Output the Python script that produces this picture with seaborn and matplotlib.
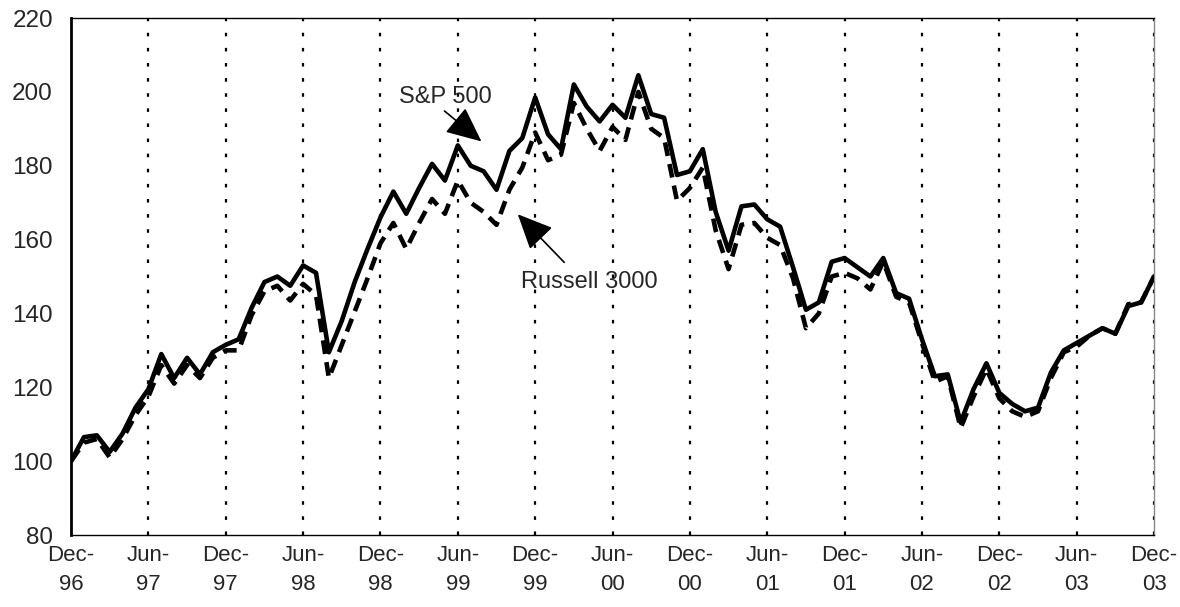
import seaborn as sns
import matplotlib.pyplot as plt
import numpy as np
import pandas as pd

# monthly index levels, Dec-96 = 100
sp500 = [100, 106.5, 107, 102.5, 107.5, 114.5, 119.5, 129, 122.5, 128, 123.5, 129.5, 131.5,
         133, 141.5, 148.5, 150, 147.5, 153, 151, 129.5, 138, 148.5, 157.5, 166,
         173, 167, 174, 180.5, 176, 185.5, 180, 178.5, 173.5, 184, 187.5, 198.5,
         188.5, 184.5, 202, 196, 192, 196.5, 193, 204.5, 194, 193, 177.5, 178.5,
         184.5, 167.5, 157, 169, 169.5, 165.5, 163.5, 152.5, 141, 143, 154, 155,
         152.5, 150, 155, 145.5, 144, 133, 123, 123.5, 110.5, 119.5, 126.5, 118.5,
         115.5, 113.5, 114.5, 124, 130, 132, 134, 136, 134.5, 142, 143, 150]
russell = [100, 105, 106, 101, 106, 112.5, 117.5, 126, 121, 126, 122.5, 128, 130,
           130, 139.5, 146, 147.5, 143.5, 148, 145, 122.5, 131.5, 140.5, 149.5, 159,
           164.5, 157.5, 164.5, 171, 167, 176, 170, 167.5, 164, 173.5, 179.5, 189,
           181.5, 183, 197, 190, 184, 190.5, 187, 200, 190, 187.5, 170.5, 174,
           179.5, 162.5, 152, 164, 164.5, 160.5, 158.5, 149.5, 136, 140, 150, 151,
           149.5, 146.5, 154, 144.5, 143, 132, 121.5, 123, 109, 117.5, 125, 117,
           113.5, 112, 113.5, 122.5, 129.5, 131, 134, 136, 134.5, 142.5, 143, 150]
tick_labels = ['Dec-\n96', 'Jun-\n97', 'Dec-\n97', 'Jun-\n98', 'Dec-\n98', 'Jun-\n99',
               'Dec-\n99', 'Jun-\n00', 'Dec-\n00', 'Jun-\n01', 'Dec-\n01', 'Jun-\n02',
               'Dec-\n02', 'Jun-\n03', 'Dec-\n03']

months = np.arange(len(sp500))
df = pd.DataFrame({'month': months, 'S&P 500': sp500, 'Russell 3000': russell})

sns.set_theme(style='white')
plt.rcParams['font.family'] = ['Liberation Sans', 'DejaVu Sans']

fig = plt.figure(figsize=(11.8, 6.07), dpi=100)
ax = fig.add_axes([0.0602, 0.1186, 0.9178, 0.8517])

tick_pos = months[::6]
for xp in tick_pos[1:]:
    ax.axvline(xp, color='black', lw=1.6, ls=(0, (1.6, 5.2)), zorder=1)

sns.lineplot(data=df, x='month', y='Russell 3000', ax=ax, color='black',
             lw=3.3, ls=(0, (3, 1.8)), zorder=2)
sns.lineplot(data=df, x='month', y='S&P 500', ax=ax, color='black',
             lw=3.3, zorder=3)

ax.set_xlim(0, 84)
ax.set_ylim(80, 220)
ax.set_yticks(range(80, 221, 20))
ax.set_xticks(tick_pos)
ax.set_xticklabels(tick_labels, linespacing=1.5)
ax.set_xlabel('')
ax.set_ylabel('')
ax.tick_params(axis='y', direction='in', length=6, width=1, color='#666666',
               labelsize=17.5, pad=13)
ax.tick_params(axis='x', length=0, labelsize=16, pad=7)
for s in ax.spines.values():
    s.set_color('black')
    s.set_linewidth(1)
ax.spines['left'].set_linewidth(2)
ax.spines['right'].set_color('#888888')

ax.text(29.0, 198.6, 'S&P 500', fontsize=17, ha='center', va='center')
ax.annotate('', xy=(32.0, 186.1), xytext=(28.8, 195.3),
            arrowprops=dict(arrowstyle='-|>,head_length=1.1,head_width=0.5',
                            mutation_scale=20, color='black', lw=1.2))
ax.text(34.9, 148.5, 'Russell 3000', fontsize=17, ha='left', va='center')
ax.annotate('', xy=(34.5, 167.4), xytext=(38.4, 153.3),
            arrowprops=dict(arrowstyle='-|>,head_length=1.1,head_width=0.5',
                            mutation_scale=20, color='black', lw=1.2))

plt.savefig('out.png', dpi=100)
plt.close()
